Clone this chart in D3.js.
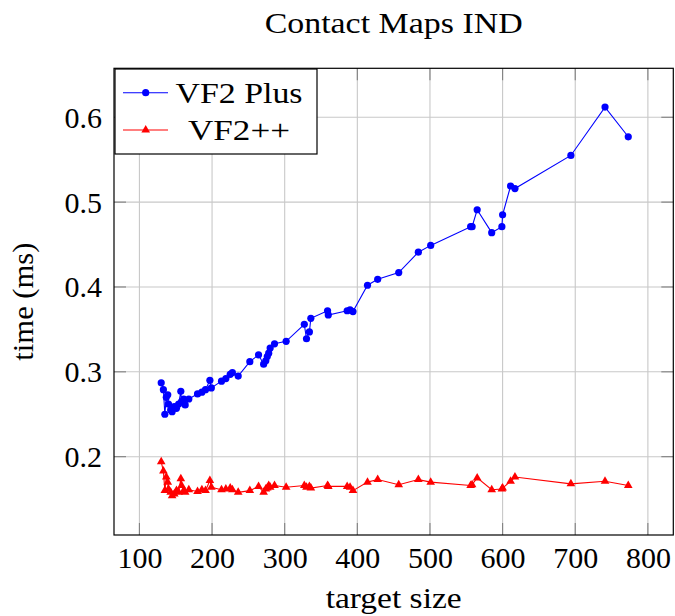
<!DOCTYPE html>
<html>
<head>
<meta charset="utf-8">
<script src="https://cdn.jsdelivr.net/npm/d3@7"></script>
<style>
  body { margin: 0; background: #fff; }
  text { font-family: "Liberation Serif", "Times New Roman", serif; fill: #000; }
</style>
</head>
<body>
<svg id="chart" width="675" height="616"></svg>
<script>
// Target graph sizes (shared by both algorithms)
const targetSize = [
  130, 133, 135, 137, 139, 140, 143, 145, 148, 151,
  154, 157, 158, 161, 163, 168, 180, 186, 191, 197,
  199, 213, 219, 225, 228, 236, 252, 264, 271, 274,
  276, 278, 280, 286, 302, 327, 330, 334, 336, 359,
  360, 386, 390, 394, 414, 428, 457, 484, 501, 556,
  558, 565, 585, 599, 600, 611, 617, 694, 741, 773
];
// Matching times (ms) for VF2 Plus
const vf2Plus = [
  0.287, 0.279, 0.250, 0.270, 0.273, 0.262, 0.255, 0.253, 0.259, 0.257,
  0.262, 0.277, 0.265, 0.268, 0.261, 0.268, 0.274, 0.276, 0.279, 0.290,
  0.281, 0.289, 0.292, 0.297, 0.299, 0.295, 0.312, 0.320, 0.309, 0.313,
  0.318, 0.322, 0.328, 0.333, 0.336, 0.356, 0.339, 0.347, 0.363, 0.372,
  0.367, 0.372, 0.373, 0.371, 0.402, 0.409, 0.417, 0.441, 0.449, 0.471,
  0.471, 0.491, 0.464, 0.471, 0.485, 0.519, 0.516, 0.555, 0.612, 0.577
];
// Matching times (ms) for VF2++
const vf2pp = [
  0.194, 0.183, 0.160, 0.176, 0.170, 0.162, 0.158, 0.154, 0.156, 0.160,
  0.158, 0.174, 0.166, 0.160, 0.158, 0.161, 0.159, 0.161, 0.160, 0.172,
  0.164, 0.161, 0.162, 0.163, 0.161, 0.158, 0.160, 0.165, 0.158, 0.162,
  0.163, 0.166, 0.164, 0.166, 0.164, 0.166, 0.164, 0.165, 0.163, 0.166,
  0.165, 0.165, 0.164, 0.160, 0.170, 0.173, 0.167, 0.173, 0.170, 0.166,
  0.167, 0.175, 0.161, 0.162, 0.163, 0.171, 0.176, 0.168, 0.171, 0.166
];
const xTicks = [100, 200, 300, 400, 500, 600, 700, 800];
const yTicks = [0.2, 0.3, 0.4, 0.5, 0.6];
const seriesNames = ["VF2 Plus", "VF2++"];
const seriesColors = ["#0000ff", "#ff0000"];

const FONT = 30;
const svg = d3.select("#chart");
const plotL = 114, plotR = 673.3, plotT = 68.3, plotB = 535;

const x = d3.scaleLinear().domain([65, 835]).range([plotL, plotR]);
const y = d3.scaleLinear().domain([0.1077, 0.6577]).range([plotB, plotT]);

// Grid
const grid = svg.append("g");
grid.selectAll("line.gx").data(xTicks).join("line")
  .attr("x1", d => x(d)).attr("x2", d => x(d))
  .attr("y1", plotT).attr("y2", plotB)
  .attr("stroke", "#c8c8c8").attr("stroke-width", 1.1);
grid.selectAll("line.gy").data(yTicks).join("line")
  .attr("y1", d => y(d)).attr("y2", d => y(d))
  .attr("x1", plotL).attr("x2", plotR)
  .attr("stroke", "#c8c8c8").attr("stroke-width", 1.1);

// Tick marks on all four sides, pointing inward
const TL = 12;
const ticks = svg.append("g").attr("stroke", "#808080").attr("stroke-width", 1.1);
xTicks.forEach(t => {
  ticks.append("line").attr("x1", x(t)).attr("x2", x(t)).attr("y1", plotB).attr("y2", plotB - TL);
  ticks.append("line").attr("x1", x(t)).attr("x2", x(t)).attr("y1", plotT).attr("y2", plotT + TL);
});
yTicks.forEach(t => {
  ticks.append("line").attr("y1", y(t)).attr("y2", y(t)).attr("x1", plotL).attr("x2", plotL + TL);
  ticks.append("line").attr("y1", y(t)).attr("y2", y(t)).attr("x1", plotR).attr("x2", plotR - TL);
});

// Tick labels via d3 axes
const xAxis = svg.append("g").attr("transform", `translate(0,${plotB})`)
  .call(d3.axisBottom(x).tickValues(xTicks).tickFormat(d3.format("d")).tickSize(0).tickPadding(12));
xAxis.select(".domain").remove();
xAxis.selectAll("text").attr("font-size", FONT).attr("font-family", "Liberation Serif").attr("dy", "0.71em").attr("fill", "#000");

const yAxis = svg.append("g").attr("transform", `translate(${plotL},0)`)
  .call(d3.axisLeft(y).tickValues(yTicks).tickFormat(d3.format(".1f")).tickSize(0).tickPadding(12));
yAxis.select(".domain").remove();
yAxis.selectAll("text").attr("font-size", FONT).attr("font-family", "Liberation Serif").attr("dy", "0.33em").attr("fill", "#000");

// Series
const seriesData = [vf2Plus, vf2pp];
const triangle = r => `M0,${-r}L${0.866 * r},${0.5 * r}L${-0.866 * r},${0.5 * r}Z`;
const CIRCLE_R = 3.6, TRI_R = 5;

seriesData.forEach((vals, i) => {
  const pts = targetSize.map((s, k) => [s, vals[k]]);
  const line = d3.line().x(d => x(d[0])).y(d => y(d[1]));
  svg.append("path").datum(pts)
    .attr("d", line).attr("fill", "none")
    .attr("stroke", seriesColors[i]).attr("stroke-width", 1.1);
  const g = svg.append("g").attr("fill", seriesColors[i]);
  if (i === 0) {
    g.selectAll("circle").data(pts).join("circle")
      .attr("cx", d => x(d[0])).attr("cy", d => y(d[1])).attr("r", CIRCLE_R);
  } else {
    g.selectAll("path").data(pts).join("path")
      .attr("transform", d => `translate(${x(d[0])},${y(d[1])})`)
      .attr("d", triangle(TRI_R));
  }
});

// Frame
svg.append("rect").attr("x", plotL).attr("y", plotT)
  .attr("width", plotR - plotL).attr("height", plotB - plotT)
  .attr("fill", "none").attr("stroke", "#000").attr("stroke-width", 1.2);

// Title and axis labels (widened slightly to the wider serif face)
const wideText = (sel, len) => sel.attr("textLength", len).attr("lengthAdjust", "spacingAndGlyphs");
wideText(svg.append("text").attr("x", (plotL + plotR) / 2).attr("y", 33)
  .attr("text-anchor", "middle").attr("font-size", FONT).text("Contact Maps IND"), 258);
wideText(svg.append("text").attr("x", (plotL + plotR) / 2).attr("y", 608)
  .attr("text-anchor", "middle").attr("font-size", FONT).text("target size"), 136);
wideText(svg.append("text").attr("transform", `translate(33,${(plotT + plotB) / 2}) rotate(-90)`)
  .attr("text-anchor", "middle").attr("font-size", FONT).text("time (ms)"), 118);

// Legend
const lg = svg.append("g");
lg.append("rect").attr("x", 115).attr("y", 69).attr("width", 202).attr("height", 85)
  .attr("fill", "#fff").attr("stroke", "#000").attr("stroke-width", 1.2);
const legendY = [92.7, 130];
const legendLen = [127, 102];
seriesNames.forEach((name, i) => {
  lg.append("line").attr("x1", 123).attr("x2", 168).attr("y1", legendY[i]).attr("y2", legendY[i])
    .attr("stroke", seriesColors[i]).attr("stroke-width", 1.1);
  if (i === 0) {
    lg.append("circle").attr("cx", 145.7).attr("cy", legendY[i]).attr("r", CIRCLE_R).attr("fill", seriesColors[i]);
  } else {
    lg.append("path").attr("transform", `translate(145.7,${legendY[i]})`)
      .attr("d", triangle(TRI_R)).attr("fill", seriesColors[i]);
  }
  wideText(lg.append("text").attr("x", 239).attr("y", legendY[i]).attr("dy", "0.33em")
    .attr("text-anchor", "middle").attr("font-size", FONT).text(name), legendLen[i]);
});
</script>
</body>
</html>
